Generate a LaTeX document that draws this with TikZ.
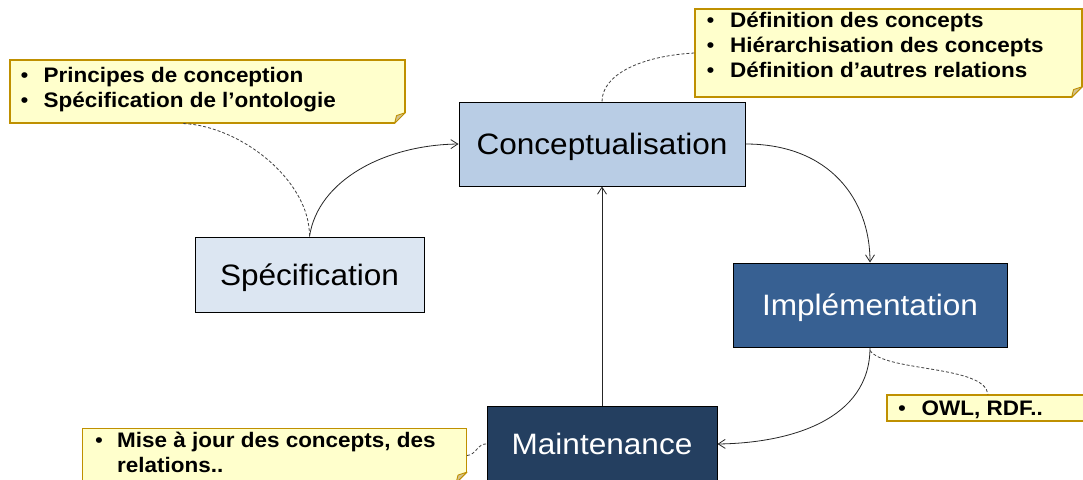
\documentclass[tikz,border=0pt]{standalone}
\usepackage{fontspec}
\setmainfont{Liberation Sans}
\newfontfamily\widefont[FakeStretch=1.07]{Liberation Sans}
\usetikzlibrary{arrows.meta}
\definecolor{notefill}{HTML}{FFFFCC}
\definecolor{noteedge}{HTML}{BF9000}
\definecolor{foldfill}{HTML}{D3C28F}
\definecolor{specfill}{HTML}{DCE6F2}
\definecolor{concfill}{HTML}{B9CDE5}
\definecolor{implfill}{HTML}{376092}
\definecolor{maintfill}{HTML}{243F60}
\definecolor{dashcol}{HTML}{404040}
\newcommand{\foldcorner}[1]{%
  \fill[white] ([xshift=-11pt]#1.south east) -- ([xshift=3pt,yshift=-3pt]#1.south east) -- ([yshift=11pt]#1.south east) -- cycle;
  \filldraw[fill=foldfill, draw=noteedge, line width=0.9pt, line join=round]
    ([yshift=11pt]#1.south east) -- ([xshift=-11pt]#1.south east) -- ([xshift=-9pt,yshift=8pt]#1.south east) -- cycle;}
\begin{document}
\begin{tikzpicture}[x=1pt,y=-1pt,
  box/.style={draw=black, line width=1pt, inner sep=0pt, text depth=0pt, font=\widefont\fontsize{29.5}{34}\selectfont},
  note/.style={draw=noteedge, fill=notefill, line width=1.1pt, inner sep=0pt},
  notetext/.style={inner sep=0pt, anchor=base west, font=\widefont\bfseries\fontsize{21}{25}\selectfont},
  flow/.style={draw=black!85, line width=0.8pt, -{Straight Barb[length=7pt,width=9pt]}},
  link/.style={draw=dashcol, line width=0.8pt, dash pattern=on 3pt off 2pt}]
\clip (0,0) rectangle (1083,479);
\fill[white] (0,0) rectangle (1083,479);

% boxes
\node[box, fill=specfill, minimum width=229pt, minimum height=75pt] (spec) at (309.5,274.5) {Spécification};
\node[box, fill=concfill, minimum width=286pt, minimum height=84pt] (concept) at (602,144) {Conceptualisation};
\node[box, fill=implfill, text=white, minimum width=274pt, minimum height=84pt] (impl) at (870,305) {Implémentation};
\node[box, fill=maintfill, text=white, minimum width=230pt, minimum height=76pt] (maint) at (602,444) {Maintenance};

% notes
\node[note, minimum width=395pt, minimum height=63pt] (n1) at (207.5,91.5) {};
\foldcorner{n1}
\node[note, minimum width=387pt, minimum height=88pt] (n2) at (888.5,53) {};
\foldcorner{n2}
\node[note, minimum width=208pt, minimum height=26pt] (n3) at (991,408) {};
\foldcorner{n3}
\node[note, minimum width=384pt, minimum height=54pt] (n4) at (274.5,455.5) {};
\foldcorner{n4}

\node[notetext] (t1) at (20.5,82) {\begin{tabular}[t]{@{}p{23pt}@{}l@{}}{\mdseries\textbullet}&Principes de conception\\{\mdseries\textbullet}&Spécification de l’ontologie\end{tabular}};
\node[notetext] (t2) at (706.5,27.5) {\begin{tabular}[t]{@{}p{23.5pt}@{}l@{}}{\mdseries\textbullet}&Définition des concepts\\{\mdseries\textbullet}&Hiérarchisation des concepts\\{\mdseries\textbullet}&Définition d’autres relations\end{tabular}};
\node[notetext] (t3) at (898,415.5) {\begin{tabular}[t]{@{}p{23.5pt}@{}l@{}}{\mdseries\textbullet}&OWL, RDF..\end{tabular}};
\node[notetext] (t4) at (95,447) {\begin{tabular}[t]{@{}p{22pt}@{}l@{}}{\mdseries\textbullet}&Mise à jour des concepts, des\\&relations..\end{tabular}};

% flow arrows
\draw[flow] (spec.north) .. controls (318,180) and (385,145) .. (concept.west);
\draw[flow] (concept.east) .. controls (830,144) and (870,200) .. (impl.north);
\draw[flow] (impl.south) .. controls (870,420) and (790,443) .. (maint.east);
\draw[flow] (maint.north) -- (concept.south);

% dashed links
\draw[link] ([xshift=174pt]n1.south west) .. controls (240,126) and (310,180) .. (spec.north);
\draw[link] (n2.west) .. controls (640,56) and (602,75) .. (concept.north);
\draw[link] ([yshift=-3pt]impl.south) .. controls (885,372) and (985,365) .. ([xshift=-3pt]n3.north);
\draw[link] (n4.east) .. controls (476,455) and (478,443) .. (maint.west);
\end{tikzpicture}
\end{document}
